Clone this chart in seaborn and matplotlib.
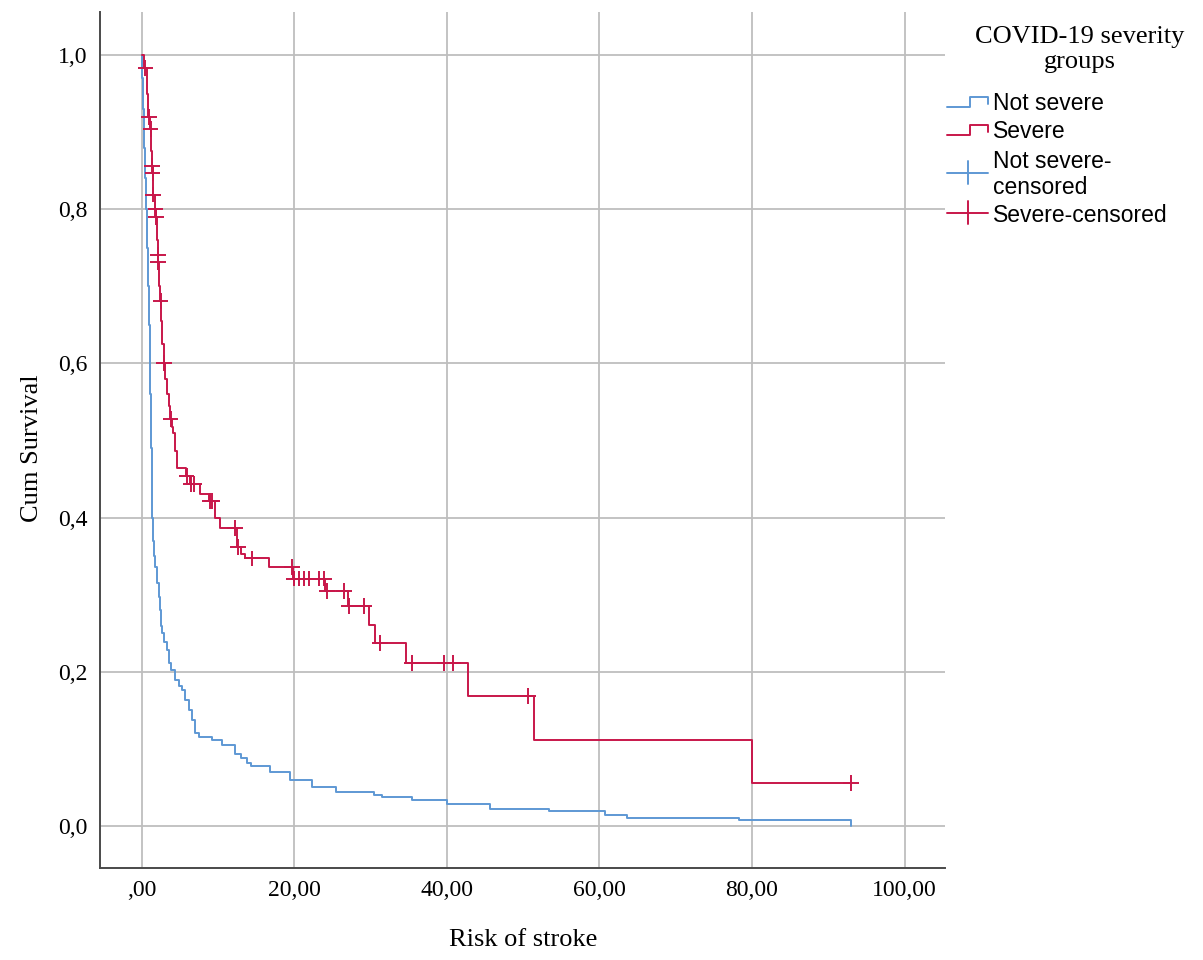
import numpy as np
import pandas as pd
import matplotlib
matplotlib.use("Agg")
import matplotlib.pyplot as plt
import seaborn as sns
from matplotlib.lines import Line2D

# ---------------- data ----------------
groups = ["Not severe", "Severe"]

notsev_time = [0.0, 0.05, 0.15, 0.30, 0.45, 0.61, 0.75, 0.88, 0.97, 1.05, 1.12, 1.20, 1.27,
               1.33, 1.40, 1.50, 1.65, 1.83, 2.05, 2.27, 2.45, 2.60, 2.70, 3.00, 3.36, 3.60,
               3.80, 4.45, 4.88, 5.30, 5.73, 6.17, 6.60, 7.03, 7.50, 9.30, 10.50, 12.20,
               13.10, 13.80, 14.40, 16.90, 19.50, 22.30, 25.50, 30.50, 31.50, 35.50, 40.00,
               45.70, 53.40, 60.80, 63.60, 78.30, 93.00]
notsev_surv = [1.0, 0.97, 0.93, 0.88, 0.84, 0.80, 0.75, 0.70, 0.65, 0.60, 0.56, 0.52, 0.49,
               0.45, 0.40, 0.37, 0.35, 0.336, 0.315, 0.297, 0.28, 0.26, 0.25, 0.238, 0.228,
               0.212, 0.202, 0.189, 0.181, 0.176, 0.163, 0.150, 0.137, 0.120, 0.116, 0.112,
               0.105, 0.094, 0.088, 0.082, 0.078, 0.070, 0.060, 0.051, 0.044, 0.040, 0.037,
               0.034, 0.029, 0.022, 0.019, 0.014, 0.011, 0.0073, 0.0]

sev_time = [0.0, 0.30, 0.70, 0.90, 1.10, 1.30, 1.40, 1.45, 1.47, 1.75, 1.85, 2.00, 2.10,
            2.20, 2.35, 2.45, 2.60, 2.75, 2.90, 3.10, 3.30, 3.55, 3.75, 4.00, 4.15, 4.37,
            4.60, 5.85, 6.40, 7.70, 8.90, 9.60, 10.35, 12.50, 13.00, 13.50, 16.70, 19.90,
            24.00, 27.10, 29.80, 30.60, 34.70, 42.80, 51.50, 80.00, 93.00]
sev_surv = [1.0, 0.983, 0.95, 0.92, 0.904, 0.875, 0.856, 0.847, 0.819, 0.80, 0.79, 0.76,
            0.741, 0.732, 0.70, 0.681, 0.655, 0.625, 0.60, 0.58, 0.56, 0.545, 0.528, 0.518,
            0.51, 0.486, 0.464, 0.454, 0.444, 0.431, 0.421, 0.399, 0.386, 0.362, 0.353,
            0.347, 0.336, 0.321, 0.305, 0.285, 0.261, 0.237, 0.211, 0.169, 0.112, 0.056,
            0.056]

sev_censor_time = [0.52, 0.96, 1.18, 1.40, 1.45, 1.48, 1.83, 1.88, 2.14, 2.20, 2.49, 2.93,
                   3.80, 5.90, 6.54, 6.85, 9.00, 9.20, 12.30, 12.70, 14.50, 19.70, 19.95,
                   20.60, 21.25, 21.90, 23.20, 23.90, 24.30, 26.50, 27.20, 29.20, 31.30,
                   35.50, 39.70, 40.80, 50.70, 93.00]
notsev_censor_time = []

x_ticks = [0, 20, 40, 60, 80, 100]
x_tick_labels = [",00", "20,00", "40,00", "60,00", "80,00", "100,00"]
y_ticks = [0.0, 0.2, 0.4, 0.6, 0.8, 1.0]
y_tick_labels = ["0,0", "0,2", "0,4", "0,6", "0,8", "1,0"]

legend_title_lines = ["COVID-19 severity", "groups"]
legend_labels = ["Not severe", "Severe", "Not severe-", "censored", "Severe-censored"]

colors = {"Not severe": "#5E98D4", "Severe": "#C8174A"}

# ---------------- frames ----------------
curve_df = pd.concat([
    pd.DataFrame({"time": notsev_time, "surv": notsev_surv, "group": groups[0]}),
    pd.DataFrame({"time": sev_time, "surv": sev_surv, "group": groups[1]}),
], ignore_index=True)


def surv_at(times, survs, t):
    if len(t) == 0:
        return np.array([])
    idx = np.searchsorted(np.asarray(times), np.asarray(t), side="right") - 1
    return np.asarray(survs)[idx]


cens_df = pd.concat([
    pd.DataFrame({"time": notsev_censor_time,
                  "surv": surv_at(notsev_time, notsev_surv, notsev_censor_time),
                  "group": groups[0]}),
    pd.DataFrame({"time": sev_censor_time,
                  "surv": surv_at(sev_time, sev_surv, sev_censor_time),
                  "group": groups[1]}),
], ignore_index=True)

# ---------------- plot ----------------
sns.set_style("white")
plt.rcParams["font.family"] = ["Liberation Serif", "DejaVu Serif"]
plt.rcParams["text.color"] = "black"
plt.rcParams["axes.labelcolor"] = "black"
plt.rcParams["xtick.color"] = "black"
plt.rcParams["ytick.color"] = "black"

W, H = 1203, 960
fig = plt.figure(figsize=(W / 100, H / 100), dpi=100)
ax = fig.add_axes([100 / W, 1 - 868 / H, 845 / W, 856 / H])

sns.lineplot(data=curve_df, x="time", y="surv", hue="group", palette=colors,
             estimator=None, sort=False, drawstyle="steps-post", linewidth=1.4,
             legend=False, ax=ax, zorder=3)
sns.scatterplot(data=cens_df, x="time", y="surv", hue="group", palette=colors,
                marker="+", s=130, linewidth=1.4, legend=False, ax=ax, zorder=4)

ax.set_xlim(-5.44, 105.3)
ax.set_ylim(-0.0545, 1.0558)
ax.set_xticks(x_ticks)
ax.set_xticklabels(x_tick_labels, fontsize=17)
ax.set_yticks(y_ticks)
ax.set_yticklabels(y_tick_labels, fontsize=17)
ax.tick_params(length=0, pad=9, colors="black")
ax.grid(True, color="#BEBEBE", linewidth=1.3)
ax.set_axisbelow(True)
for s in ["top", "right"]:
    ax.spines[s].set_visible(False)
for s in ["left", "bottom"]:
    ax.spines[s].set_color("#4A4A4A")
    ax.spines[s].set_linewidth(1.4)

ax.set_xlabel("Risk of stroke", fontsize=19, va="center", color="black")
ax.set_ylabel("Cum Survival", fontsize=19, va="center", color="black")
ax.xaxis.set_label_coords((523 - 100) / 845, (868 - 940) / 856)
ax.yaxis.set_label_coords((32 - 100) / 845, (868 - 448) / 856)

# ---------------- legend (manual, SPSS style) ----------------
def fx(px):
    return px / W


def fy(py):
    return 1 - py / H


serif = ["Liberation Serif"]
fig.text(fx(1080), fy(37), legend_title_lines[0], ha="center", va="center", fontsize=19,
         family=serif, color="black")
fig.text(fx(1080), fy(62), legend_title_lines[1], ha="center", va="center", fontsize=19,
         family=serif, color="black")

lw = 1.4
for (ylow, yhigh, g) in [(107, 97, groups[0]), (135, 125, groups[1])]:
    c = colors[g]
    xs = [fx(947), fx(970), fx(970), fx(988), fx(988)]
    ys = [fy(ylow), fy(ylow), fy(yhigh), fy(yhigh), fy(yhigh + 7)]
    fig.add_artist(Line2D(xs, ys, color=c, linewidth=lw, transform=fig.transFigure))
for (yc, g) in [(173, groups[0]), (213, groups[1])]:
    c = colors[g]
    fig.add_artist(Line2D([fx(947), fx(988)], [fy(yc), fy(yc)], color=c, linewidth=lw,
                          transform=fig.transFigure))
    fig.add_artist(Line2D([fx(968), fx(968)], [fy(yc - 12), fy(yc + 11)], color=c,
                          linewidth=lw, transform=fig.transFigure))

sans = ["Liberation Sans", "DejaVu Sans"]
fs = 16.5
for (py, txt) in [(103, legend_labels[0]), (131, legend_labels[1]), (161, legend_labels[2]),
                  (187, legend_labels[3]), (216, legend_labels[4])]:
    fig.text(fx(993), fy(py), txt, ha="left", va="center", fontsize=fs, family=sans,
             color="black")

fig.savefig("out.png", dpi=100, facecolor="white")
